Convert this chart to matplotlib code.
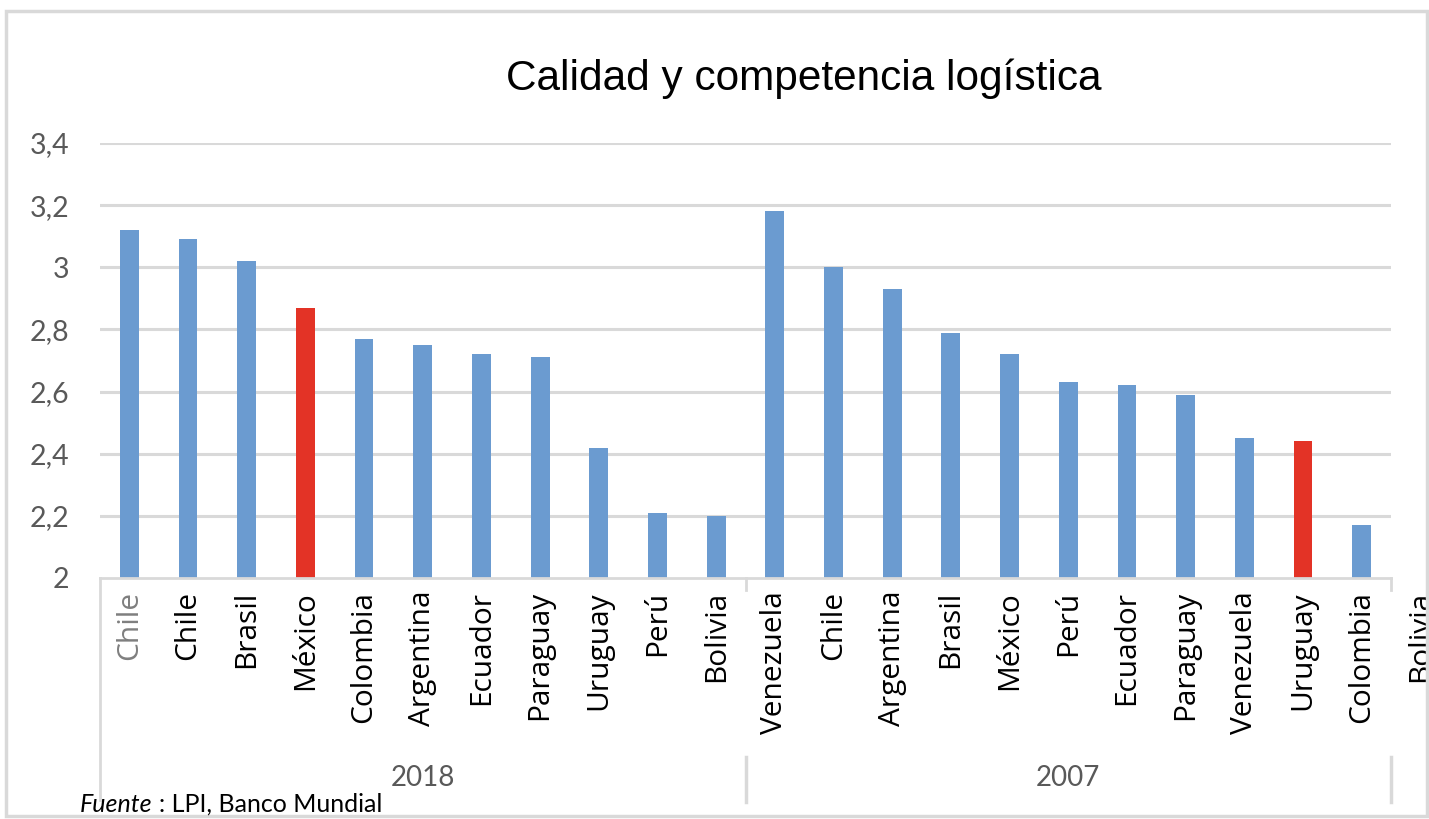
import matplotlib.pyplot as plt
import matplotlib.transforms as mtransforms
from matplotlib.patches import Rectangle
import numpy as np

# Datos LPI: calidad y competencia logística
paises_2018 = ["Chile", "Chile", "Brasil", "México", "Colombia", "Argentina",
               "Ecuador", "Paraguay", "Uruguay", "Perú", "Bolivia"]
valores_2018 = [3.12, 3.09, 3.02, 2.87, 2.77, 2.75, 2.72, 2.71, 2.42, 2.21, 2.20]

paises_2007 = ["Venezuela", "Chile", "Argentina", "Brasil", "México", "Perú",
               "Ecuador", "Paraguay", "Venezuela", "Uruguay", "Colombia"]
valores_2007 = [3.18, 3.00, 2.93, 2.79, 2.72, 2.63, 2.62, 2.59, 2.45, 2.44, 2.17]
etiqueta_extra = "Bolivia"

anios = ["2018", "2007"]
yticks = [2, 2.2, 2.4, 2.6, 2.8, 3, 3.2, 3.4]
ytick_labels = ["2", "2,2", "2,4", "2,6", "2,8", "3", "3,2", "3,4"]

azul = "#6b9bd0"
rojo = "#e33326"
gris = "#d9d9d9"

W, H = 1429, 819
fig = plt.figure(figsize=(W / 100, H / 100), dpi=100)

# marco del gráfico
fig.patches.append(Rectangle((6 / W, 1 - 816 / H), 1421 / W, 805 / H,
                             transform=fig.transFigure, fill=False,
                             edgecolor=gris, lw=2.5))

ax = fig.add_axes([100 / W, 1 - 578 / H, 1291 / W, 435 / H])

etiquetas = paises_2018 + paises_2007
valores = valores_2018 + valores_2007
x = np.arange(len(valores))
colores = [azul] * len(valores)
colores[paises_2018.index("México")] = rojo
colores[len(paises_2018) + paises_2007.index("Uruguay")] = rojo

ax.bar(x, np.array(valores) - 2, bottom=2, width=0.32, color=colores, zorder=3)

ax.set_xlim(-0.5, len(valores) - 0.5)
ax.set_ylim(2, 3.4)
ax.set_yticks(yticks)
ax.set_yticklabels(ytick_labels, family="Lato", fontsize=20.5, color="#595959")
ax.tick_params(axis="y", length=0, pad=22)
ax.set_xticks([])
for s in ax.spines.values():
    s.set_visible(False)
for t in yticks[1:]:
    ax.axhline(t, color=gris, lw=2.2, zorder=1)
ax.axhline(2, color=gris, lw=2, zorder=4, clip_on=False)

tr = mtransforms.blended_transform_factory(ax.transData, ax.transAxes)
px = 1 / 435  # un píxel en fracción de eje

# nombres de países, verticales
for i, nombre in enumerate(etiquetas + [etiqueta_extra]):
    ax.text(i, -13 * px, nombre, transform=tr, rotation=90, ha="center", va="top",
            family="Open Sans", fontsize=21.5,
            color="#7f7f7f" if i == 0 else "black", clip_on=False)

# separadores de grupos
n1 = len(paises_2018)
ax.plot([-0.5, -0.5], [0, -222 * px], transform=tr, color=gris, lw=2, clip_on=False)
for xs in [n1 - 0.5, len(valores) - 0.5]:
    ax.plot([xs, xs], [0, -12 * px], transform=tr, color=gris, lw=2, clip_on=False)
    ax.plot([xs, xs], [-179 * px, -224 * px], transform=tr, color=gris, lw=2.5,
            clip_on=False)

# años
centros = [(n1 - 1) / 2, n1 + (len(paises_2007) - 1) / 2]
for c, a in zip(centros, anios):
    ax.text(c, -200 * px, a, transform=tr, ha="center", va="center",
            family="Lato", fontsize=20, color="#595959", clip_on=False)

fig.text(0.5623, 1 - 79 / H, "Calidad y competencia logística", ha="center",
         va="center", family="Liberation Sans", fontsize=30.5, color="black")

# fuente: "Fuente" en cursiva y el resto a continuación
t1 = fig.text(80 / W, 1 - 804 / H, "Fuente", style="italic", family="Lato",
              fontsize=18, ha="left", va="center")
fig.canvas.draw()
x1 = t1.get_window_extent().x1
fig.text((x1 + 6) / W, 1 - 804 / H, ": LPI, Banco Mundial", family="Lato",
         fontsize=18, ha="left", va="center")

fig.savefig("out.png", dpi=100)
